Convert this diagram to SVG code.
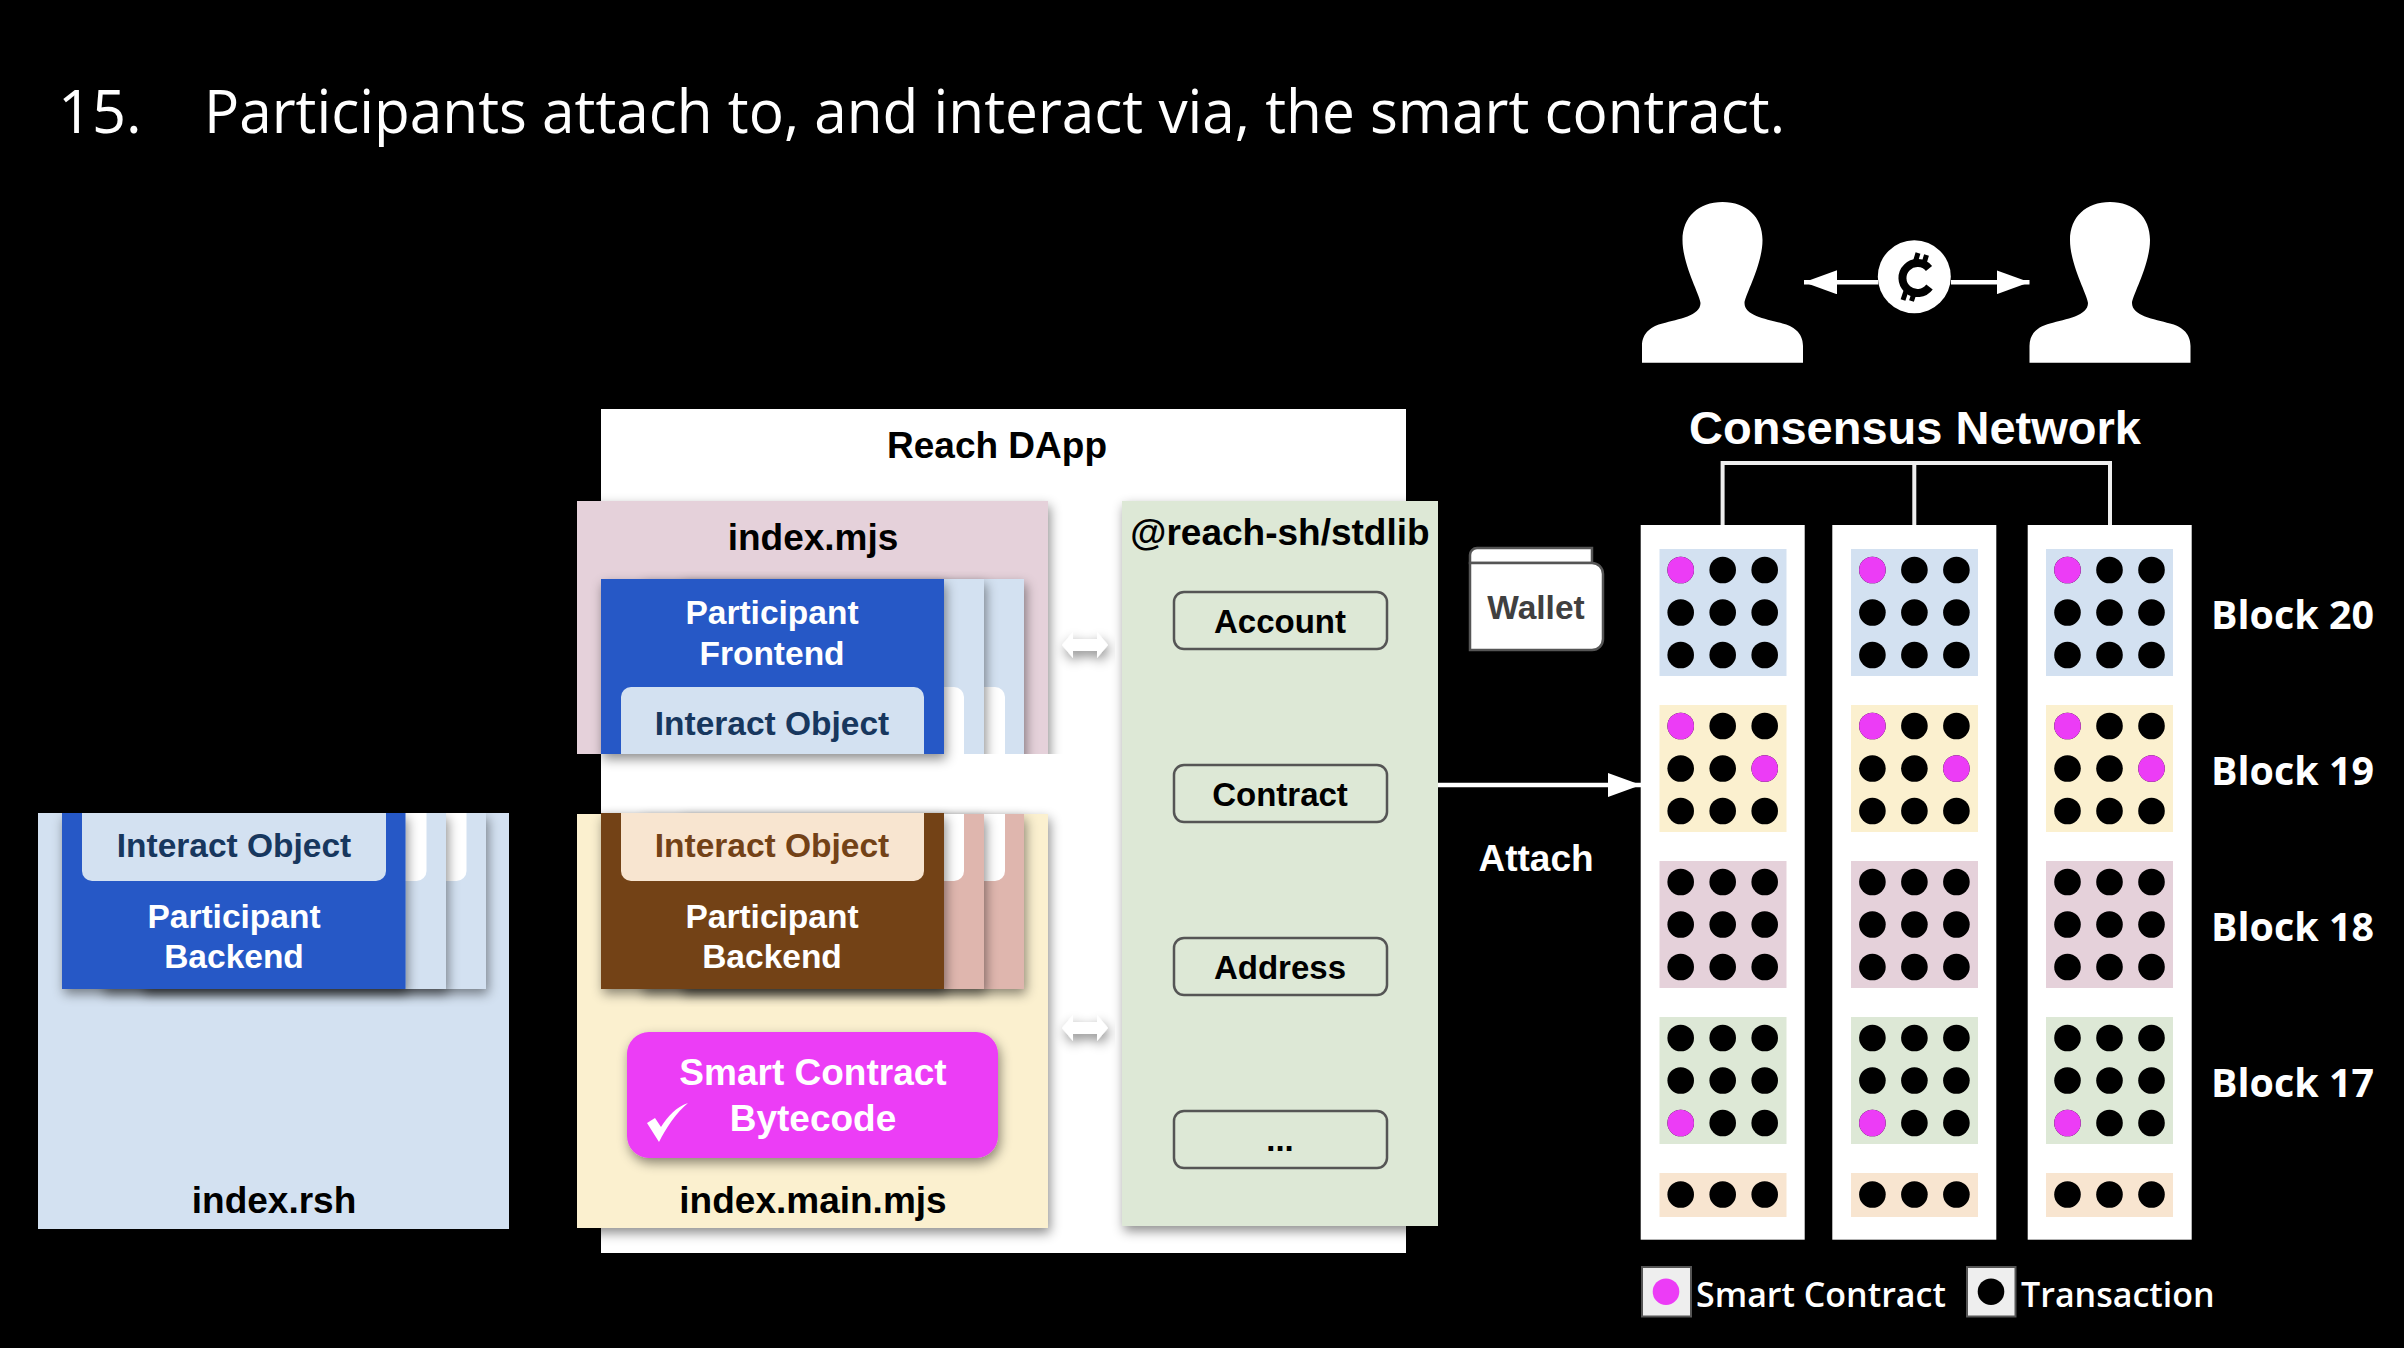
<svg xmlns="http://www.w3.org/2000/svg" width="2404" height="1348" viewBox="0 0 2404 1348">
<style>
text{font-family:"Liberation Sans",Arial,sans-serif;font-weight:700;font-size:33.500px;text-anchor:middle}
.cal{font-family:"Open Sans","Noto Sans",sans-serif;text-anchor:start}
.w{fill:#fff}.k{fill:#000}.shadow{filter:url(#sh)}
text.lbl{font-size:37px;fill:#000}
.lib{fill:none;stroke:#555;stroke-width:2.500}
text.item{font-size:33px;fill:#000}
text.sct{font-size:37px;fill:#fff}
text.ttl{font-size:59.500px;font-weight:400;fill:#fff}
text.blk{font-size:40px;fill:#fff}
text.leg{font-size:34px;font-weight:600;fill:#fff}
.col{fill:#fff}
.tx{fill:#000}.sc{fill:#ec3cf6}
</style>
<defs>
<filter id="sh" x="-15%" y="-15%" width="130%" height="130%"><feDropShadow dx="2" dy="5" stdDeviation="6" flood-color="#000" flood-opacity=".45"/></filter>
<marker id="ah" markerUnits="userSpaceOnUse" markerWidth="33" markerHeight="24" refX="33" refY="12" orient="auto"><path d="M0 0L33 12L0 24z" fill="#fff"/></marker>
<path id="person" fill="#fff" d="M-80.500 362.700V346C-80.500 332-70 326-60 323.500C-44 319-22 316-22 303C-22 296-40 265-40 240C-40 217-24 202 0 202C24 202 40 217 40 240C40 265 22 296 22 303C22 316 44 319 60 323.500C70 326 80.500 332 80.500 346V362.700z"/>
<g id="grid3"><circle cx="-42" r="13.300"/><circle r="13.300"/><circle cx="42" r="13.300"/></g>
</defs>
<rect width="2404" height="1348" fill="#000"/>
<text class="cal ttl" x="58" y="132.500">15.</text>
<text class="cal ttl" x="204" y="132.500" textLength="1581" lengthAdjust="spacingAndGlyphs">Participants attach to, and interact via, the smart contract.</text>
<g id="dapp"><rect x="601" y="409" width="805" height="844" fill="#fff"/><text class="lbl" x="997" y="458">Reach DApp</text></g>
<g id="index-rsh">
<rect x="38" y="813" width="471" height="416" fill="#d3e1f1"/>
<g class="shadow"><rect x="142" y="813" width="344" height="176" fill="#d3e1f1"/></g>
<path d="M300 813H466.500V871a10 10 0 0 1-10 10H300z" fill="#fff"/>
<g class="shadow"><rect x="102" y="813" width="344" height="176" fill="#d3e1f1"/></g>
<path d="M300 813H426.500V871a10 10 0 0 1-10 10H300z" fill="#fff"/>
<g class="shadow"><rect x="62" y="813" width="343.500" height="176" fill="#2658c6"/></g>
<path d="M82 813H386V871a10 10 0 0 1-10 10H92a10 10 0 0 1-10-10z" fill="#d3e1f1"/>
<text x="234" y="857" fill="#17375e">Interact Object</text>
<text class="w" x="234" y="928">Participant</text><text class="w" x="234" y="968">Backend</text>
<text class="lbl" x="274" y="1213">index.rsh</text>
</g>
<g id="index-mjs">
<clipPath id="c1"><rect x="560" y="480" width="520" height="274"/></clipPath>
<g clip-path="url(#c1)">
<g class="shadow"><rect x="577" y="501" width="471" height="300" fill="#e5d1da"/></g>
<g class="shadow"><rect x="681" y="579" width="343" height="220" fill="#d3e1f1"/></g>
<path d="M900 754V697a10 10 0 0 1 10-10H995a10 10 0 0 1 10 10V754z" fill="#fff"/>
<g class="shadow"><rect x="641" y="579" width="343" height="220" fill="#d3e1f1"/></g>
<path d="M900 754V697a10 10 0 0 1 10-10H954a10 10 0 0 1 10 10V754z" fill="#fff"/>
</g>
<g class="shadow"><rect x="601" y="579" width="343" height="175" fill="#2658c6"/></g>
<path d="M621 754V697a10 10 0 0 1 10-10H914a10 10 0 0 1 10 10V754z" fill="#d3e1f1"/>
<text class="lbl" x="813" y="550">index.mjs</text>
<text class="w" x="772" y="624">Participant</text><text class="w" x="772" y="665">Frontend</text>
<text x="772" y="735" fill="#17375e">Interact Object</text>
</g>
<g id="index-main-mjs">
<g class="shadow"><rect x="577" y="814" width="471" height="414" fill="#fbf0cf"/></g>
<g class="shadow"><rect x="681" y="814" width="343" height="175" fill="#dfb6ae"/></g>
<path d="M900 814H1005V871a10 10 0 0 1-10 10H900z" fill="#fff"/>
<g class="shadow"><rect x="641" y="814" width="343" height="175" fill="#dfb6ae"/></g>
<path d="M900 814H964V871a10 10 0 0 1-10 10H900z" fill="#fff"/>
<g class="shadow"><rect x="601" y="813" width="343" height="176" fill="#734217"/></g>
<path d="M621 813H924V871a10 10 0 0 1-10 10H631a10 10 0 0 1-10-10z" fill="#f8e5d0"/>
<text x="772" y="857" fill="#734217">Interact Object</text>
<text class="w" x="772" y="928">Participant</text><text class="w" x="772" y="968">Backend</text>
<g class="shadow"><rect x="627" y="1032" width="371" height="126" rx="22" fill="#ec3cf6"/></g>
<text class="sct" x="813" y="1085">Smart Contract</text>
<text class="sct" x="813" y="1131">Bytecode</text>
<path d="M647 1123L655 1118L661 1127C668 1116 676 1107 688 1103C676 1113 666 1128 659 1142z" fill="#fff"/>
<text class="lbl" x="813" y="1213">index.main.mjs</text>
</g>
<g id="stdlib">
<g class="shadow"><rect x="1122" y="501" width="316" height="725" fill="#dde8d6"/></g>
<text class="lbl" x="1280" y="545">@reach-sh/stdlib</text>
<rect class="lib" x="1174" y="592" width="213" height="57" rx="10"/><text class="item" x="1280" y="633">Account</text>
<rect class="lib" x="1174" y="765" width="213" height="57" rx="10"/><text class="item" x="1280" y="806">Contract</text>
<rect class="lib" x="1174" y="938" width="213" height="57" rx="10"/><text class="item" x="1280" y="978.500">Address</text>
<rect class="lib" x="1174" y="1111" width="213" height="57" rx="10"/><text class="item" x="1280" y="1151">...</text>
</g>
<g id="wallet">
<path d="M1470 563V555a7 7 0 0 1 7-7H1592V563z" fill="#fff" stroke="#555" stroke-width="2.500"/>
<path d="M1470 563H1592a11 11 0 0 1 11 11V639a11 11 0 0 1-11 11H1470z" fill="#fff" stroke="#555" stroke-width="2.500"/>
<text x="1536" y="619" fill="#404040">Wallet</text>
</g>
<g id="connectors">
<g class="shadow" fill="#fff"><path d="M1062 645L1073 632V639H1097V632L1108 645L1097 658V651H1073V658z"/><path d="M1062 1028L1073 1015V1022H1097V1015L1108 1028L1097 1041V1034H1073V1041z"/></g>
<path d="M1438 785H1641" stroke="#fff" stroke-width="4.500" marker-end="url(#ah)"/>
<path d="M1878 282.300H1804" stroke="#fff" stroke-width="4.500" marker-end="url(#ah)"/>
<path d="M1951 282.300H2029.500" stroke="#fff" stroke-width="4.500" marker-end="url(#ah)"/>
<path d="M1722.600 525V463H2110V525M1914.300 463V525" fill="none" stroke="#eee" stroke-width="4"/>
</g>
<g id="participant-a"><use href="#person" x="1722.500"/></g>
<g id="participant-b"><use href="#person" x="2110"/></g>
<g id="coin">
<circle cx="1914.300" cy="276.700" r="36.500" fill="#fff"/>
<path d="M1929 268.500A15 15 0 1 0 1929.500 287" fill="none" stroke="#000" stroke-width="8"/>
<path d="M1915 263L1918 253M1923.500 265L1926.500 255M1903 300L1906 291M1911.500 301L1914.500 292" stroke="#000" stroke-width="5"/>
</g>
<text class="w" x="1915" y="444" style="font-size:47px">Consensus Network</text>
<g id="col-1"><rect class="col" x="1640.700" y="525" width="164" height="714.700"/>
<rect x="1659.500" y="549" width="127" height="127" fill="#d3e1f1"/><rect x="1659.500" y="705" width="127" height="127" fill="#fbf0cf"/><rect x="1659.500" y="861" width="127" height="127" fill="#e5d1da"/><rect x="1659.500" y="1017" width="127" height="127" fill="#dde8d6"/><rect x="1659.500" y="1173" width="127" height="44" fill="#f8e5d0"/>
<g transform="translate(1722.700 0)"><use href="#grid3" y="570"/><use href="#grid3" y="612.500"/><use href="#grid3" y="655"/><use href="#grid3" y="726"/><use href="#grid3" y="768.500"/><use href="#grid3" y="811"/><use href="#grid3" y="882"/><use href="#grid3" y="924.500"/><use href="#grid3" y="967"/><use href="#grid3" y="1038"/><use href="#grid3" y="1080.500"/><use href="#grid3" y="1123"/><use href="#grid3" y="1194.500"/>
<circle class="sc" cx="-42" cy="570" r="13.300"/><circle class="sc" cx="-42" cy="726" r="13.300"/><circle class="sc" cx="42" cy="768.500" r="13.300"/><circle class="sc" cx="-42" cy="1123" r="13.300"/></g></g>
<g id="col-2"><rect class="col" x="1832.300" y="525" width="164" height="714.700"/>
<rect x="1851" y="549" width="127" height="127" fill="#d3e1f1"/><rect x="1851" y="705" width="127" height="127" fill="#fbf0cf"/><rect x="1851" y="861" width="127" height="127" fill="#e5d1da"/><rect x="1851" y="1017" width="127" height="127" fill="#dde8d6"/><rect x="1851" y="1173" width="127" height="44" fill="#f8e5d0"/>
<g transform="translate(1914.400 0)"><use href="#grid3" y="570"/><use href="#grid3" y="612.500"/><use href="#grid3" y="655"/><use href="#grid3" y="726"/><use href="#grid3" y="768.500"/><use href="#grid3" y="811"/><use href="#grid3" y="882"/><use href="#grid3" y="924.500"/><use href="#grid3" y="967"/><use href="#grid3" y="1038"/><use href="#grid3" y="1080.500"/><use href="#grid3" y="1123"/><use href="#grid3" y="1194.500"/>
<circle class="sc" cx="-42" cy="570" r="13.300"/><circle class="sc" cx="-42" cy="726" r="13.300"/><circle class="sc" cx="42" cy="768.500" r="13.300"/><circle class="sc" cx="-42" cy="1123" r="13.300"/></g></g>
<g id="col-3"><rect class="col" x="2027.700" y="525" width="164" height="714.700"/>
<rect x="2046" y="549" width="127" height="127" fill="#d3e1f1"/><rect x="2046" y="705" width="127" height="127" fill="#fbf0cf"/><rect x="2046" y="861" width="127" height="127" fill="#e5d1da"/><rect x="2046" y="1017" width="127" height="127" fill="#dde8d6"/><rect x="2046" y="1173" width="127" height="44" fill="#f8e5d0"/>
<g transform="translate(2109.500 0)"><use href="#grid3" y="570"/><use href="#grid3" y="612.500"/><use href="#grid3" y="655"/><use href="#grid3" y="726"/><use href="#grid3" y="768.500"/><use href="#grid3" y="811"/><use href="#grid3" y="882"/><use href="#grid3" y="924.500"/><use href="#grid3" y="967"/><use href="#grid3" y="1038"/><use href="#grid3" y="1080.500"/><use href="#grid3" y="1123"/><use href="#grid3" y="1194.500"/>
<circle class="sc" cx="-42" cy="570" r="13.300"/><circle class="sc" cx="-42" cy="726" r="13.300"/><circle class="sc" cx="42" cy="768.500" r="13.300"/><circle class="sc" cx="-42" cy="1123" r="13.300"/></g></g>
<g id="block-labels">
<text class="cal blk" x="2211" y="629" textLength="163" lengthAdjust="spacingAndGlyphs">Block 20</text>
<text class="cal blk" x="2211" y="785" textLength="163" lengthAdjust="spacingAndGlyphs">Block 19</text>
<text class="cal blk" x="2211" y="941" textLength="163" lengthAdjust="spacingAndGlyphs">Block 18</text>
<text class="cal blk" x="2211" y="1097" textLength="163" lengthAdjust="spacingAndGlyphs">Block 17</text>
</g>
<text class="sct" x="1536" y="871">Attach</text>
<g id="legend">
<rect x="1642" y="1267" width="49" height="49.500" fill="#eee" stroke="#555" stroke-width="2"/><circle class="sc" cx="1666" cy="1291.700" r="13.300"/>
<text class="cal leg" x="1696" y="1307">Smart Contract</text>
<rect x="1967" y="1267" width="48.500" height="49.500" fill="#eee" stroke="#555" stroke-width="2"/><circle class="tx" cx="1991" cy="1291.700" r="13.300"/>
<text class="cal leg" x="2021" y="1307">Transaction</text>
</g>
</svg>
